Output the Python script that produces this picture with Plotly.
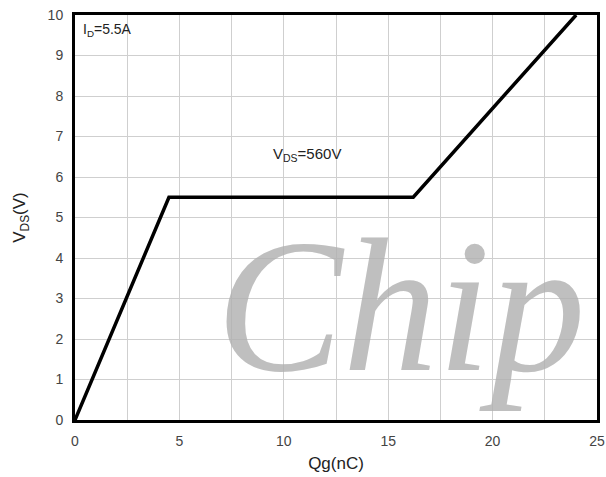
import plotly.graph_objects as go

qg = [0, 4.5, 16.2, 24.0]
vgs = [0, 5.5, 5.5, 10.0]
x_ticks = [0, 5, 10, 15, 20, 25]
y_ticks = list(range(0, 11))

fig = go.Figure()

# watermark
fig.add_trace(go.Scatter(
    x=[15.6], y=[2.4], mode="text", text=["<i>Chip</i>"],
    textfont=dict(family="Liberation Serif", size=190, color="rgba(175,175,175,0.8)"),
    cliponaxis=False, hoverinfo="skip", showlegend=False))

fig.add_trace(go.Scatter(
    x=qg, y=vgs, mode="lines",
    line=dict(color="black", width=3.5),
    showlegend=False))

fig.update_xaxes(
    range=[0, 25], tickvals=x_ticks, ticktext=[str(v) for v in x_ticks],
    showgrid=True, gridcolor="#cfcfcf", gridwidth=1,
    minor=dict(dtick=2.5, showgrid=True, gridcolor="#cfcfcf"),
    showline=True, linecolor="black", linewidth=3, mirror=True,
    ticks="", zeroline=False, ticklabelstandoff=6, automargin=False,
    tickfont=dict(family="Liberation Sans", size=14, color="#444"),
    title=dict(text="Qg(nC)", font=dict(family="Liberation Sans", size=17, color="#222"), standoff=10))
fig.update_yaxes(
    range=[0, 10], tickvals=y_ticks,
    showgrid=True, gridcolor="#cfcfcf", gridwidth=1,
    showline=True, linecolor="black", linewidth=3, mirror=True,
    ticks="", zeroline=False, ticklabelstandoff=6, automargin=False,
    tickfont=dict(family="Liberation Sans", size=14, color="#444"),
    title=dict(text="V<sub>DS</sub>(V)", font=dict(family="Liberation Sans", size=17, color="#222"), standoff=18))

fig.add_annotation(x=0.3, y=9.9, xanchor="left", yanchor="top", showarrow=False,
                   text="I<sub>D</sub>=5.5A",
                   font=dict(family="Liberation Sans", size=14, color="#222"))
fig.add_annotation(x=9.4, y=6.55, xanchor="left", yanchor="middle", showarrow=False,
                   text="V<sub>DS</sub>=560V",
                   font=dict(family="Liberation Sans", size=15, color="#222"))

fig.update_layout(
    width=606, height=477,
    margin=dict(l=75, r=9, t=15, b=57),
    plot_bgcolor="white", paper_bgcolor="white")

fig.write_html("out.html")
